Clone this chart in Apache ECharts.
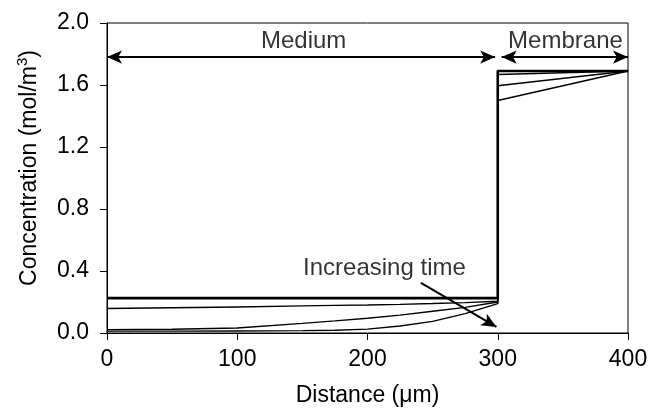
<!DOCTYPE html>
<html>
<head>
<meta charset="utf-8">
<script src="https://cdn.jsdelivr.net/npm/echarts@6/dist/echarts.min.js"></script>
<style>
  html, body { margin: 0; padding: 0; background: #fff; }
  #chart { width: 652px; height: 413px; }
</style>
</head>
<body>
<div id="chart"></div>
<script>
// Concentration profiles across the medium (0–300 µm) and membrane (300–400 µm)
const xMedium = [0, 50, 100, 150, 175, 200, 225, 250, 275, 300];
const medium1 = [0.225, 0.225, 0.225, 0.225, 0.225, 0.225, 0.225, 0.225, 0.225, 0.225];
const medium2 = [0.158, 0.163, 0.168, 0.175, 0.178, 0.181, 0.185, 0.190, 0.196, 0.205];
const medium3 = [0.022, 0.024, 0.032, 0.062, 0.078, 0.095, 0.115, 0.140, 0.165, 0.200];
const medium4 = [0.012, 0.012, 0.013, 0.015, 0.018, 0.025, 0.045, 0.075, 0.125, 0.190];

const xMembrane = [300, 400];
const membrane1 = [1.69, 1.69];
const membrane2 = [1.668, 1.69];
const membrane3 = [1.595, 1.69];
const membrane4 = [1.50, 1.69];

const xTicks = [0, 100, 200, 300, 400];
const yTicks = [0.0, 0.4, 0.8, 1.2, 1.6, 2.0];

// Region annotations: double arrows with their labels, and the time arrow
const regionArrowY = 1.78;
const mediumSpan = [0, 298];
const membraneSpan = [303, 400];
const textNotes = [
  { name: 'Medium', value: [151, 1.88] },
  { name: 'Membrane', value: [352, 1.88] },
  { name: 'Increasing time', value: [213, 0.42] }
];
const timeArrow = [[241, 0.323], [299, 0.039]];

function profile(medium, membrane) {
  const pts = xMedium.map((x, i) => [x, medium[i]]);
  xMembrane.forEach((x, i) => pts.push([x, membrane[i]]));
  return pts;
}

const font = 'Liberation Sans, Arial, sans-serif';
const black = '#000';

const profiles = [
  { name: 'profile 1', data: profile(medium1, membrane1), width: 2.6 },
  { name: 'profile 2', data: profile(medium2, membrane2), width: 1.4 },
  { name: 'profile 3', data: profile(medium3, membrane3), width: 1.4 },
  { name: 'profile 4', data: profile(medium4, membrane4), width: 1.4 }
];

const series = profiles.map(p => ({
  name: p.name,
  type: 'line',
  data: p.data,
  symbol: 'none',
  lineStyle: { color: black, width: p.width },
  silent: true
}));

// Arrow annotations
series.push({
  name: 'arrows',
  type: 'line',
  data: [],
  symbol: 'none',
  markLine: {
    silent: true,
    animation: false,
    symbol: ['arrow', 'arrow'],
    symbolSize: [10, 15],
    label: { show: false },
    lineStyle: { color: black, width: 2, type: 'solid' },
    data: [
      [{ coord: [mediumSpan[0], regionArrowY] }, { coord: [mediumSpan[1], regionArrowY] }],
      [{ coord: [membraneSpan[0], regionArrowY] }, { coord: [membraneSpan[1], regionArrowY] }],
      [{ coord: timeArrow[0], symbol: 'none' }, { coord: timeArrow[1], symbol: 'arrow' }]
    ]
  }
});

// Text labels
series.push({
  name: 'notes',
  type: 'scatter',
  data: textNotes,
  symbolSize: 0,
  silent: true,
  label: {
    show: true,
    position: 'inside',
    formatter: p => p.name,
    color: black,
    textBorderWidth: 0,
    fontFamily: font,
    fontSize: 24
  }
});

const chart = echarts.init(document.getElementById('chart'), null, { renderer: 'canvas' });
chart.setOption({
  animation: false,
  backgroundColor: '#fff',
  grid: {
    left: 107, right: 24, top: 23, bottom: 80,
    show: true, borderColor: black, borderWidth: 1, backgroundColor: 'transparent'
  },
  xAxis: {
    type: 'value',
    min: xTicks[0], max: xTicks[xTicks.length - 1], interval: 100,
    name: 'Distance (\u03bcm)',
    nameLocation: 'middle',
    nameGap: 51,
    nameTextStyle: { color: black, fontFamily: font, fontSize: 23 },
    axisLine: { show: true, onZero: false, lineStyle: { color: black, width: 1 } },
    axisTick: { show: true, inside: false, length: 7, lineStyle: { color: black } },
    axisLabel: { color: black, fontFamily: font, fontSize: 23, margin: 15 },
    splitLine: { show: false }
  },
  yAxis: {
    type: 'value',
    min: yTicks[0], max: yTicks[yTicks.length - 1], interval: 0.4,
    name: '{n|Concentration (mol/m}{s|3}{n|)}',
    nameLocation: 'middle',
    nameGap: 62,
    nameTextStyle: {
      color: black, fontFamily: font, fontSize: 23,
      padding: [0, 0, 0, 20],
      rich: {
        n: { color: black, fontFamily: font, fontSize: 23, lineHeight: 30 },
        s: { color: black, fontFamily: font, fontSize: 15, lineHeight: 15, verticalAlign: 'top' }
      }
    },
    axisLine: { show: true, lineStyle: { color: black, width: 1 } },
    axisTick: { show: true, inside: false, length: 7, lineStyle: { color: black } },
    axisLabel: { color: black, fontFamily: font, fontSize: 23, margin: 18, formatter: v => v.toFixed(1) },
    splitLine: { show: false }
  },
  series: series
});
</script>
</body>
</html>
